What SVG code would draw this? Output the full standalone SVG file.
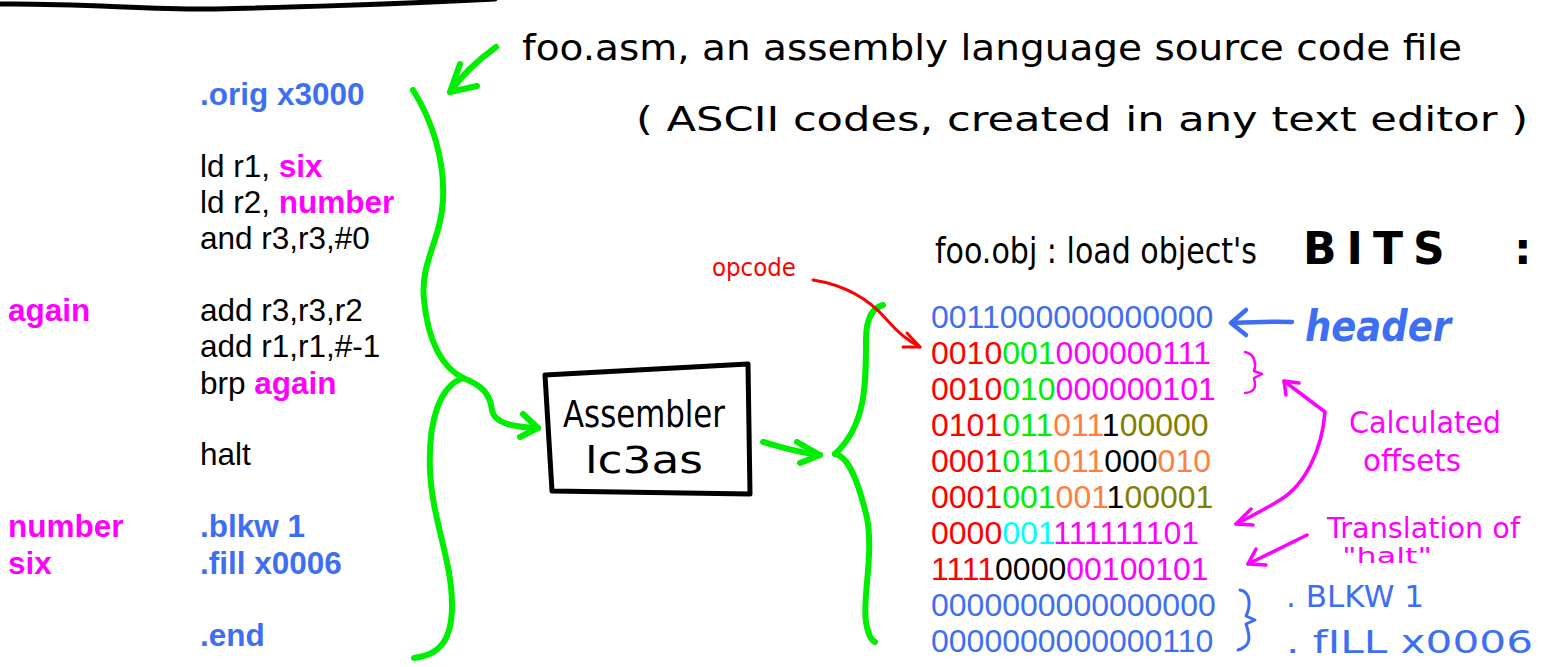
<svg xmlns="http://www.w3.org/2000/svg" width="1551" height="667" viewBox="0 0 1551 667">
<style>
.hand{font-family:"DejaVu Sans","Liberation Sans",sans-serif;fill:#000}
.code{font-family:"Liberation Sans",Arial,sans-serif;font-size:31.5px;fill:#000}
.bin{font-family:"Liberation Sans",Arial,sans-serif;font-size:32px}
.b{font-weight:bold}
.blue{fill:#3e6ef2}
.mag{fill:#ff00ff}
.red{fill:#ff0000}
.grn{fill:#00ee00}
.org{fill:#ff7f40}
.olv{fill:#808000}
.cyn{fill:#00ffff}
.blk{fill:#000}
.g{fill:none;stroke:#00ee00;stroke-width:6;stroke-linecap:round;stroke-linejoin:round}
.k{fill:none;stroke:#000;stroke-width:5;stroke-linecap:round;stroke-linejoin:round}
.r{fill:none;stroke:#ff0000;stroke-width:3;stroke-linecap:round;stroke-linejoin:round}
.m{fill:none;stroke:#ff00ff;stroke-width:3.5;stroke-linecap:round;stroke-linejoin:round}
.bl{fill:none;stroke:#3e6ef2;stroke-width:3;stroke-linecap:round;stroke-linejoin:round}
</style>

<path id="top-line" d="M0,4 C80,3 150,10 215,9 C300,7 420,3 495,-1" class="k"/>

<g id="source-code">
  <text class="code b blue" x="200" y="105">.orig x3000</text>
  <text class="code" x="200" y="177">ld r1, <tspan class="b mag">six</tspan></text>
  <text class="code" x="200" y="213">ld r2, <tspan class="b mag">number</tspan></text>
  <text class="code" x="200" y="249">and r3,r3,#0</text>
  <text class="code b mag" x="8" y="321">again</text>
  <text class="code" x="200" y="321">add r3,r3,r2</text>
  <text class="code" x="200" y="357">add r1,r1,#-1</text>
  <text class="code" x="200" y="394">brp <tspan class="b mag">again</tspan></text>
  <text class="code" x="200" y="465">halt</text>
  <text class="code b mag" x="8" y="537">number</text>
  <text class="code b blue" x="200" y="537">.blkw 1</text>
  <text class="code b mag" x="8" y="574">six</text>
  <text class="code b blue" x="200" y="574">.fill x0006</text>
  <text class="code b blue" x="200" y="646">.end</text>
</g>

<g id="asm-caption">
  <text class="hand" x="522" y="60" font-size="36" textLength="940" lengthAdjust="spacingAndGlyphs">foo.asm, an assembly language source code file</text>
  <text class="hand" x="636" y="131" font-size="34" textLength="892" lengthAdjust="spacingAndGlyphs">( ASCII codes, created in any text editor )</text>
</g>

<g id="assembler">
  <path d="M545,375 L748,364 L750,494 L552,491 Z" class="k"/>
  <text class="hand" x="563" y="427" font-size="38" textLength="162" lengthAdjust="spacingAndGlyphs">Assembler</text>
  <text class="hand" x="585" y="473" font-size="38" textLength="118" lengthAdjust="spacingAndGlyphs">lc3as</text>
</g>

<g id="obj-caption">
  <text class="hand" x="935" y="263" font-size="36" textLength="322" lengthAdjust="spacingAndGlyphs">foo.obj : load object's</text>
  <text class="hand" x="1303" y="264" font-size="44" font-weight="bold" letter-spacing="10">BITS<tspan x="1514" letter-spacing="0">:</tspan></text>
</g>

<g id="object-bits" class="bin">
  <text x="931" y="328" class="blue">0011000000000000</text>
  <text x="931" y="364"><tspan class="red">0010</tspan><tspan class="grn">001</tspan><tspan class="mag">000000111</tspan></text>
  <text x="931" y="400"><tspan class="red">0010</tspan><tspan class="grn">010</tspan><tspan class="mag">000000101</tspan></text>
  <text x="931" y="436"><tspan class="red">0101</tspan><tspan class="grn">011</tspan><tspan class="org">011</tspan><tspan class="blk">1</tspan><tspan class="olv">00000</tspan></text>
  <text x="931" y="472"><tspan class="red">0001</tspan><tspan class="grn">011</tspan><tspan class="org">011</tspan><tspan class="blk">000</tspan><tspan class="org">010</tspan></text>
  <text x="931" y="508"><tspan class="red">0001</tspan><tspan class="grn">001</tspan><tspan class="org">001</tspan><tspan class="blk">1</tspan><tspan class="olv">00001</tspan></text>
  <text x="931" y="544"><tspan class="red">0000</tspan><tspan class="cyn">001</tspan><tspan class="mag">111111101</tspan></text>
  <text x="931" y="580"><tspan class="red">1111</tspan><tspan class="blk">0000</tspan><tspan class="mag">00100101</tspan></text>
  <text x="931" y="616" class="blue">0000000000000000</text>
  <text x="931" y="652" class="blue">0000000000000110</text>
</g>

<g id="header-label">
  <text x="1305" y="341" font-family="'DejaVu Sans','Liberation Sans',sans-serif" font-size="42" font-weight="bold" font-style="italic" fill="#3e6ef2" textLength="146" lengthAdjust="spacingAndGlyphs">header</text>
</g>

<g id="opcode-label">
  <text class="hand red" x="712" y="276" font-size="24" textLength="84" lengthAdjust="spacingAndGlyphs">opcode</text>
</g>

<g id="offsets-label">
  <text class="hand mag" x="1349" y="433" font-size="30" textLength="152" lengthAdjust="spacingAndGlyphs">Calculated</text>
  <text class="hand mag" x="1363" y="471" font-size="30" textLength="98" lengthAdjust="spacingAndGlyphs">offsets</text>
</g>

<g id="halt-label">
  <text class="hand mag" x="1327" y="538" font-size="28" textLength="193" lengthAdjust="spacingAndGlyphs">Translation of</text>
  <text class="hand mag" x="1342" y="563" font-size="22" textLength="90" lengthAdjust="spacingAndGlyphs">"halt"</text>
</g>

<g id="directive-labels">
  <text class="hand blue" x="1286" y="607" font-size="30" textLength="138" lengthAdjust="spacingAndGlyphs">. BLKW 1</text>
  <text class="hand blue" x="1286" y="653" font-size="32" textLength="247" lengthAdjust="spacingAndGlyphs">. fILL x0006</text>
</g>

<g id="connectors">
  <path class="g" d="M496,47 C478,60 462,75 450,92"/>
  <path class="g" d="M460,64 L450,92 L477,86"/>
  <path class="g" d="M413,90 C432,120 445,160 443,200 C441,240 420,262 424,300 C428,340 440,366 463,378"/>
  <path class="g" d="M463,378 C440,386 428,420 430,470 C432,520 452,560 452,605 C452,640 440,655 414,658"/>
  <path class="g" d="M463,378 C482,385 490,394 492,410 C494,424 515,427 538,428"/>
  <path class="g" d="M523,414 L538,428 L520,437"/>
  <path class="g" d="M763,442 C785,448 800,453 820,455"/>
  <path class="g" d="M797,442 L820,455 L800,463"/>
  <path class="g" d="M883,305 C872,308 866,318 866,340 C866,385 866,425 835,454"/>
  <path class="g" d="M835,454 C848,456 858,480 867,518 C874,555 862,600 866,622 C868,635 871,640 875,642"/>
  <path class="r" d="M813,280 C845,285 870,300 887,320 C900,335 910,342 920,347"/>
  <path class="r" d="M907,333 L920,347 L903,347"/>
  <path class="bl" style="stroke-width:4.5" d="M1292,322 C1270,321 1250,322 1232,323"/>
  <path class="bl" style="stroke-width:4.5" d="M1246,310 L1231,323 L1246,335"/>
  <path class="m" style="stroke-width:2.5" d="M1245,352 C1256,354 1256,366 1254,371 L1262,374 L1254,378 C1256,386 1256,392 1245,393"/>
  <path class="m" d="M1284,381 L1325,412 C1322,450 1305,485 1280,500 C1262,511 1248,518 1236,524"/>
  <path class="m" d="M1299,383 L1284,381 L1286,395"/>
  <path class="m" d="M1251,509 L1236,524 L1253,525"/>
  <path class="m" d="M1307,535 L1248,564"/>
  <path class="m" d="M1256,549 L1248,564 L1266,565"/>
  <path class="bl" d="M1240,590 C1252,592 1250,608 1246,616 L1255,620 L1246,624 C1250,636 1252,646 1238,650"/>
</g>
</svg>
